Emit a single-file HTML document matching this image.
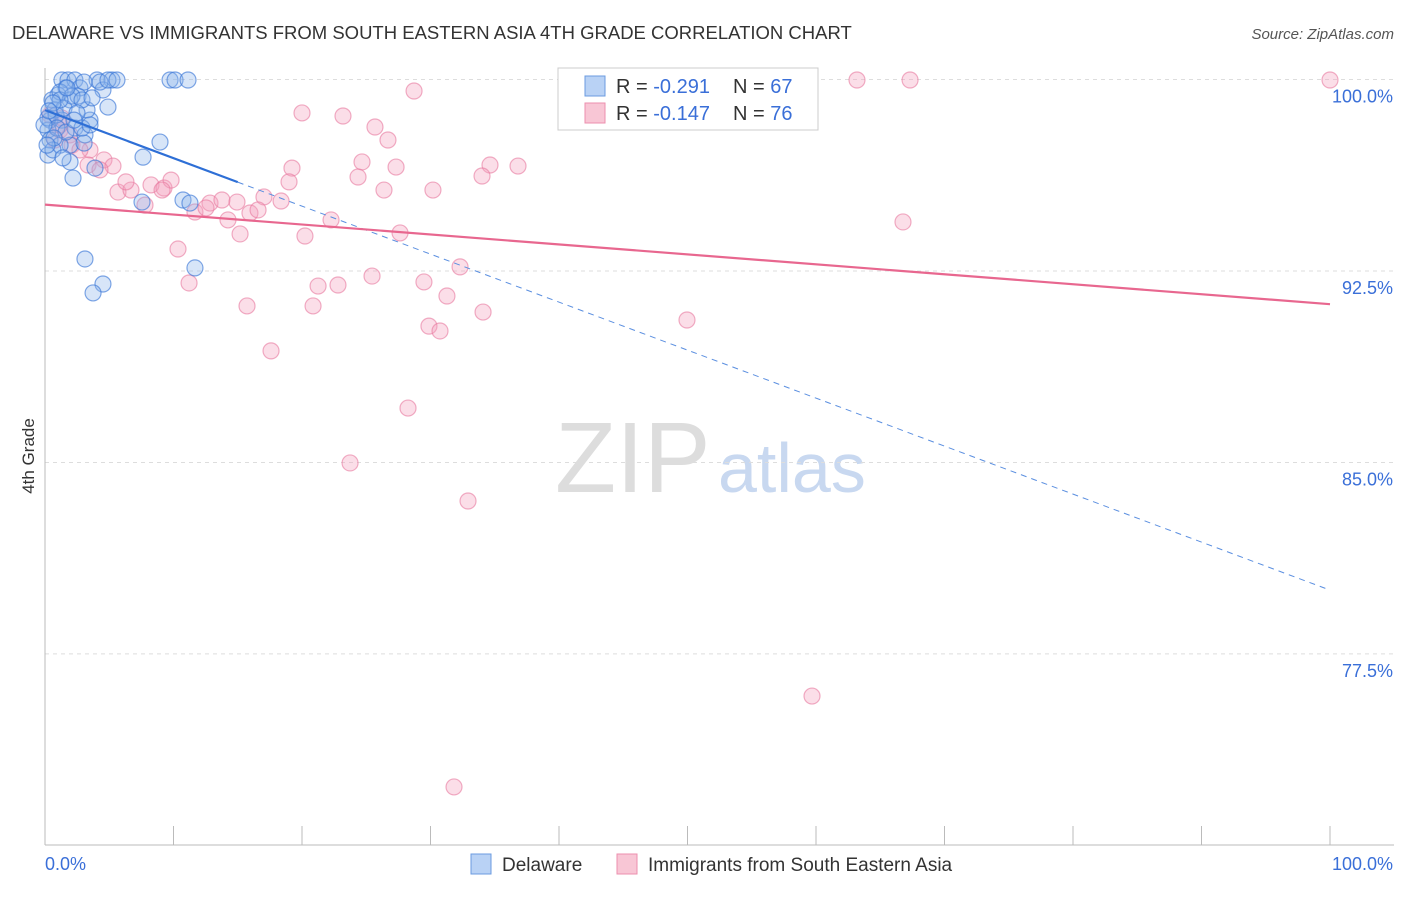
<!DOCTYPE html>
<html><head><meta charset="utf-8"><style>
body{margin:0;background:#fff;font-family:"Liberation Sans",sans-serif}
svg text{font-family:"Liberation Sans",sans-serif}
</style></head><body>
<svg id="c" width="1406" height="892">
<text x="12" y="39" font-size="18.5" fill="#333">DELAWARE VS IMMIGRANTS FROM SOUTH EASTERN ASIA 4TH GRADE CORRELATION CHART</text>
<text x="1394" y="39" font-size="15" fill="#555" text-anchor="end" font-style="italic">Source: ZipAtlas.com</text>
<text x="34" y="456" font-size="17" fill="#333" text-anchor="middle" transform="rotate(-90 34 456)">4th Grade</text>
<text x="555" y="492" font-size="100" fill="#ddd" font-family="Liberation Serif">ZIP</text>
<text x="718" y="492" font-size="70" fill="#c8d8f0">atlas</text>
<g id="grid"></g><g id="pts"></g><g id="lines"></g>
<g>
<rect x="558" y="68" width="260" height="62" fill="#fff" stroke="#ccc"/>
<rect x="585" y="76" width="20" height="20" fill="#b9d2f5" stroke="#6b9be0"/>
<rect x="585" y="103" width="20" height="20" fill="#f8c6d5" stroke="#ec8fae"/>
<text x="616" y="93" font-size="20" fill="#333">R = <tspan fill="#3a6fd8">-0.291</tspan></text>
<text x="733" y="93" font-size="20" fill="#333">N = <tspan fill="#3a6fd8">67</tspan></text>
<text x="616" y="120" font-size="20" fill="#333">R = <tspan fill="#3a6fd8">-0.147</tspan></text>
<text x="733" y="120" font-size="20" fill="#333">N = <tspan fill="#3a6fd8">76</tspan></text>
</g>
<g>
<rect x="471" y="854" width="20" height="20" fill="#b9d2f5" stroke="#6b9be0"/>
<text x="502" y="871" font-size="19" fill="#333">Delaware</text>
<rect x="617" y="854" width="20" height="20" fill="#f8c6d5" stroke="#ec8fae"/>
<text x="648" y="871" font-size="19" fill="#333">Immigrants from South Eastern Asia</text>
</g>
</svg>
<script>
const yTicks=[100,92.5,85,77.5];
const yTickLabels=["100.0%","92.5%","85.0%","77.5%"];
const xTickLabels=["0.0%","100.0%"];
const bluePx=[[62,80],[68,80],[75,80],[97,80],[112,80],[170,80],[175,80],[188,80],[66,88],[58,95],[52,100],[60,92],[80,88],[103,90],[108,107],[70,100],[55,110],[50,120],[48,130],[62,120],[75,128],[90,120],[50,140],[48,155],[85,135],[70,145],[60,145],[84,143],[160,142],[143,157],[70,162],[95,168],[73,178],[53,150],[48,118],[56,115],[64,108],[78,96],[87,110],[57,128],[66,132],[44,125],[85,259],[103,284],[93,293],[195,268],[142,202],[183,200],[190,203],[72,96],[82,100],[92,98],[60,100],[53,103],[67,88],[84,82],[100,82],[108,80],[117,80],[54,138],[47,145],[63,158],[82,128],[49,111],[77,113],[90,125],[74,120]];
const pinkPx=[[1330,80],[857,80],[910,80],[414,91],[302,113],[343,116],[375,127],[388,140],[490,165],[518,166],[396,167],[362,162],[292,168],[358,177],[289,182],[384,190],[433,190],[482,176],[903,222],[331,220],[305,236],[400,233],[240,234],[228,220],[210,203],[195,212],[206,208],[222,200],[237,202],[250,213],[264,197],[281,201],[258,210],[178,249],[189,283],[247,306],[313,306],[318,286],[338,285],[372,276],[424,282],[447,296],[460,267],[483,312],[429,326],[440,331],[271,351],[687,320],[408,408],[350,463],[468,501],[812,696],[454,787],[60,130],[70,135],[72,145],[90,150],[88,165],[104,160],[113,166],[118,192],[131,190],[126,182],[151,185],[164,188],[171,180],[145,205],[60,125],[55,140],[80,150],[100,170],[162,190],[62,118],[50,115]];
const blueX=bluePx.map(p=>+((p[0]-45)/12.85).toFixed(2)), blueY=bluePx.map(p=>+(100-(p[1]-79.5)/25.53).toFixed(2));
const pinkX=pinkPx.map(p=>+((p[0]-45)/12.85).toFixed(2)), pinkY=pinkPx.map(p=>+(100-(p[1]-79.5)/25.53).toFixed(2));
const blueTrend=[98.8,80.0], pinkTrend=[95.1,91.2];
const X=v=>45+v*12.85, Y=v=>79.5+(100-v)*25.53;
const NS="http://www.w3.org/2000/svg";
function mk(t,a,p){const e=document.createElementNS(NS,t);for(const k in a)e.setAttribute(k,a[k]);p.appendChild(e);return e;}
const g=document.getElementById('grid');
yTicks.forEach((t,i)=>{
 const l=mk('line',{x1:45,x2:1394,y1:Y(t),y2:Y(t),stroke:'#ddd','stroke-dasharray':'4,4'},g);
 
 
 const tx=mk('text',{x:1393,y:Y(t)+23,'font-size':18,fill:'#3a6fd8','text-anchor':'end'},g);
 tx.textContent=yTickLabels[i];
 
 
});
mk('line',{x1:45,x2:45,y1:68,y2:845,stroke:'#bbb'},g);
mk('line',{x1:45,x2:1394,y1:845,y2:845,stroke:'#bbb'},g);
for(let i=0;i<=10;i++){const l=mk('line',{x1:X(i*10),x2:X(i*10),y1:826,y2:845,stroke:'#bbb'},g);
 
 }
[[0,45,'start'],[100,1393,'end']].forEach((d,i)=>{const t=mk('text',{x:d[1],y:870,'font-size':18,fill:'#3a6fd8','text-anchor':d[2]},g);t.textContent=xTickLabels[i];
 
 });
const pg=document.getElementById('pts');
pinkX.forEach((x,i)=>{const c=mk('circle',{cx:X(x),cy:Y(pinkY[i]),r:8,fill:'rgba(244,160,188,0.35)',stroke:'rgba(232,120,158,0.6)','stroke-width':1.2},pg);
 
 });
blueX.forEach((x,i)=>{const c=mk('circle',{cx:X(x),cy:Y(blueY[i]),r:8,fill:'rgba(140,180,235,0.35)',stroke:'rgba(60,120,215,0.65)','stroke-width':1.2},pg);
 
 });
const lg=document.getElementById('lines');
const by=x=>blueTrend[0]+(blueTrend[1]-blueTrend[0])*x/100;
let l=mk('line',{x1:X(0),y1:Y(by(0)),x2:X(15),y2:Y(by(15)),stroke:'#2e6fd6','stroke-width':2.2},lg);


l=mk('line',{x1:X(15),y1:Y(by(15)),x2:X(100),y2:Y(by(100)),stroke:'#5b8fe0','stroke-width':1,'stroke-dasharray':'6,5'},lg);


l=mk('line',{x1:X(0),y1:Y(pinkTrend[0]),x2:X(100),y2:Y(pinkTrend[1]),stroke:'#e8678f','stroke-width':2.2},lg);


</script>
</body></html>
